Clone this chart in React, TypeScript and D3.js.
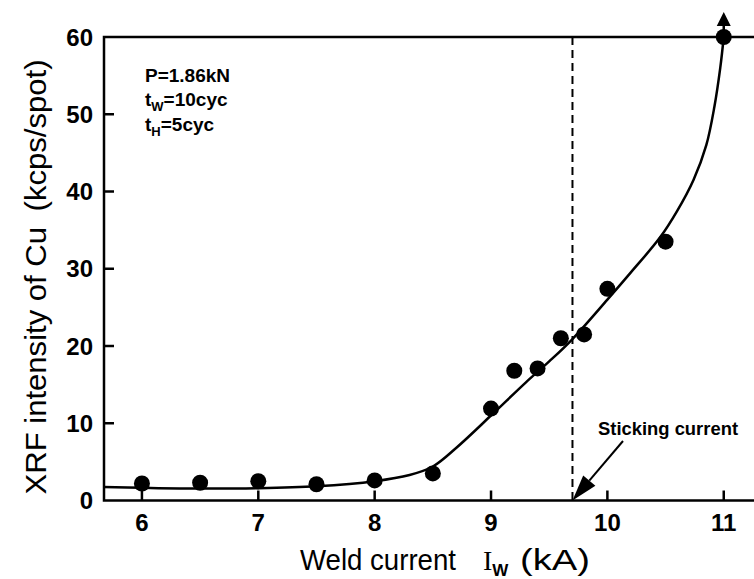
import React, { useEffect, useRef } from 'react';
import * as d3 from 'd3';

// measured points
const currents = [6, 6.5, 7, 7.5, 8, 8.5, 9, 9.2, 9.4, 9.6, 9.8, 10, 10.5, 11];
const intensities = [2.2, 2.3, 2.5, 2.1, 2.6, 3.5, 11.9, 16.8, 17.1, 21.0, 21.5, 27.4, 33.5, 60];

// hand-drawn trend curve
const curveX = [5.67, 6.0, 6.5, 7.0, 7.5, 8.0, 8.3, 8.5, 8.7, 9.0, 9.3, 9.5, 9.7, 10.0, 10.2, 10.45, 10.6, 10.74, 10.85, 10.92, 10.97, 11.0];
const curveY = [1.75, 1.65, 1.55, 1.6, 1.85, 2.5, 3.3, 4.4, 6.8, 11.0, 15.3, 18.0, 20.9, 26.0, 29.5, 34.0, 37.5, 41.5, 46, 51, 56, 60];

const xTicks = [6, 7, 8, 9, 10, 11];
const yTicks = [0, 10, 20, 30, 40, 50, 60];
const stickingCurrent = 9.7;

const App: React.FC = () => {
  const svgRef = useRef<SVGSVGElement>(null);

  useEffect(() => {
    if (!svgRef.current) return;
    const svg = d3.select(svgRef.current);
    svg.selectAll('*').remove();

    const left = 104, right = 754, top = 37, bottom = 500.5;
    const x = d3.scaleLinear().domain([5.674, 11.26]).range([left, right]);
    const y = d3.scaleLinear().domain([0, 60]).range([bottom, top]);
    const font = '"Liberation Sans", Arial, sans-serif';

    // frame
    svg.append('path')
      .attr('d', `M${right},${top}H${left}V${bottom}H${right}`)
      .attr('fill', 'none').attr('stroke', '#000').attr('stroke-width', 2.5);

    // ticks (inward)
    xTicks.forEach(t => {
      svg.append('line')
        .attr('x1', x(t)).attr('x2', x(t)).attr('y1', bottom).attr('y2', bottom - 10)
        .attr('stroke', '#000').attr('stroke-width', 2.5);
      svg.append('text')
        .attr('x', x(t)).attr('y', 531)
        .attr('text-anchor', 'middle')
        .style('font-family', font).style('font-size', '24px').style('font-weight', 'bold')
        .text(t);
    });
    yTicks.forEach(t => {
      if (t !== 0 && t !== 60) {
        svg.append('line')
          .attr('x1', left).attr('x2', left + 10).attr('y1', y(t)).attr('y2', y(t))
          .attr('stroke', '#000').attr('stroke-width', 2.5);
      }
      svg.append('text')
        .attr('x', 93).attr('y', y(t) + 8.5)
        .attr('text-anchor', 'end')
        .style('font-family', font).style('font-size', '24px').style('font-weight', 'bold')
        .text(t);
    });

    // sticking current dashed line
    svg.append('line')
      .attr('x1', x(stickingCurrent)).attr('x2', x(stickingCurrent))
      .attr('y1', top).attr('y2', bottom)
      .attr('stroke', '#000').attr('stroke-width', 2).attr('stroke-dasharray', '8,5');

    // curve
    const line = d3.line<number>()
      .x((_, i) => x(curveX[i]))
      .y(d => y(d))
      .curve(d3.curveCatmullRom.alpha(0.5));
    svg.append('path')
      .attr('d', line(curveY) || '')
      .attr('fill', 'none').attr('stroke', '#000').attr('stroke-width', 2.5);

    // points
    svg.selectAll('circle.pt')
      .data(currents)
      .enter()
      .append('circle')
      .attr('class', 'pt')
      .attr('cx', d => x(d))
      .attr('cy', (_, i) => y(intensities[i]))
      .attr('r', 8)
      .attr('fill', '#000');

    // off-scale arrow at 11 kA
    const ax = x(11);
    svg.append('line')
      .attr('x1', ax).attr('x2', ax).attr('y1', y(60)).attr('y2', 24)
      .attr('stroke', '#000').attr('stroke-width', 2.5);
    svg.append('path')
      .attr('d', `M${ax},12 L${ax - 7},26 L${ax + 7},26 Z`)
      .attr('fill', '#000');

    // sticking current annotation arrow
    const tipX = x(stickingCurrent), tipY = bottom;
    const sx = 623, sy = 441;
    const ang = Math.atan2(sy - tipY, sx - tipX);
    const hl = 26, hw = 8;
    const bx = tipX + hl * Math.cos(ang), by = tipY + hl * Math.sin(ang);
    const px = -Math.sin(ang) * hw, py = Math.cos(ang) * hw;
    svg.append('line')
      .attr('x1', sx).attr('y1', sy).attr('x2', bx).attr('y2', by)
      .attr('stroke', '#000').attr('stroke-width', 2);
    svg.append('path')
      .attr('d', `M${tipX},${tipY} L${bx + px},${by + py} L${bx - px},${by - py} Z`)
      .attr('fill', '#000');
    svg.append('text')
      .attr('x', 598).attr('y', 435)
      .attr('textLength', 140).attr('lengthAdjust', 'spacingAndGlyphs')
      .style('font-family', font).style('font-size', '18px').style('font-weight', 'bold')
      .text('Sticking current');

    // condition labels
    const cond = svg.append('g')
      .style('font-family', font).style('font-size', '19px').style('font-weight', 'bold');
    cond.append('text').attr('x', 145).attr('y', 82).text('P=1.86kN');
    const tw = cond.append('text').attr('x', 145).attr('y', 106);
    tw.append('tspan').text('t');
    tw.append('tspan').attr('dy', 5).style('font-size', '13px').text('W');
    tw.append('tspan').attr('dy', -5).text('=10cyc');
    const th = cond.append('text').attr('x', 145).attr('y', 131);
    th.append('tspan').text('t');
    th.append('tspan').attr('dy', 5).style('font-size', '13px').text('H');
    th.append('tspan').attr('dy', -5).text('=5cyc');

    // axis titles
    const tstyle = (s: d3.Selection<SVGTextElement, unknown, null, undefined>) =>
      s.style('font-family', font).style('font-size', '29px').style('font-weight', '500');
    svg.append('text').attr('x', 300).attr('y', 570)
      .attr('textLength', 156).attr('lengthAdjust', 'spacingAndGlyphs')
      .call(tstyle).text('Weld current');
    const iw = svg.append('text').attr('x', 483).attr('y', 570)
      .style('font-family', '"Liberation Serif", serif').style('font-size', '28px');
    iw.append('tspan').text('I');
    iw.append('tspan').attr('dy', 6)
      .style('font-family', font).style('font-size', '17px').style('font-weight', 'bold').text('W');
    svg.append('text').attr('x', 520).attr('y', 570)
      .attr('textLength', 70).attr('lengthAdjust', 'spacingAndGlyphs')
      .call(tstyle).text('(kA)');

    svg.append('text')
      .attr('transform', 'translate(46,277) rotate(-90)')
      .attr('text-anchor', 'middle')
      .attr('textLength', 435).attr('lengthAdjust', 'spacingAndGlyphs')
      .call(tstyle)
      .text('XRF intensity of Cu\u2002(kcps/spot)');
  }, []);

  return (
    <svg
      ref={svgRef}
      width={754}
      height={579}
      viewBox="0 0 754 579"
      style={{ position: 'absolute', left: 0, top: 0, background: '#fff' }}
    />
  );
};

export default App;
